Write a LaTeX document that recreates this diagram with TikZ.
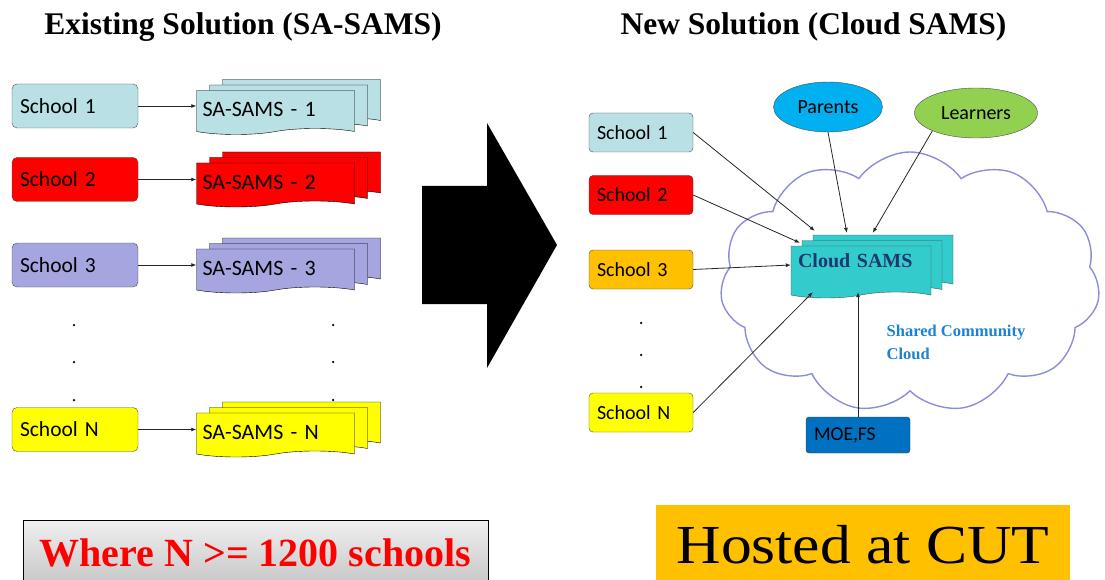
\documentclass[tikz,border=0pt]{standalone}
\usepackage{fontspec}
\setmainfont{Liberation Serif}
\newfontfamily\calibri{Carlito}
\usepackage{xcolor}
\usetikzlibrary{shapes.symbols,shapes.geometric,shadows,arrows.meta}

\definecolor{schoolcyan}{RGB}{185,224,228}
\definecolor{schoolred}{RGB}{255,0,0}
\definecolor{schoolviolet}{RGB}{165,165,224}
\definecolor{schoolyellow}{RGB}{255,255,0}
\definecolor{schoolorange}{RGB}{255,192,0}
\definecolor{parentsblue}{RGB}{0,176,240}
\definecolor{learnersgreen}{RGB}{146,208,80}
\definecolor{cloudline}{RGB}{140,140,220}
\definecolor{cloudsams}{RGB}{51,204,204}
\definecolor{samsnavy}{RGB}{31,56,110}
\definecolor{sharedblue}{RGB}{30,130,210}
\definecolor{moeblue}{RGB}{0,112,192}

\begin{document}
\begin{tikzpicture}[x=1pt,y=-1pt]
\tikzstyle{heading} = [font=\fontsize{31.5}{36}\selectfont\bfseries]
\tikzstyle{school} = [rectangle, rounded corners=5pt, draw=gray!60!black, minimum height=44pt, text width=110pt, inner xsep=8pt, align=left, font=\calibri\fontsize{21.5}{24}\selectfont]
\tikzstyle{rschool} = [rectangle, rounded corners=4pt, draw=gray!60!black, minimum height=39pt, text width=88pt, inner xsep=8pt, align=left, font=\calibri\fontsize{20}{24}\selectfont]
\tikzstyle{samsdoc} = [tape, tape bend top=none, tape bend height=6pt, draw=black, minimum height=44pt, text width=146pt, inner xsep=6pt, align=left, font=\calibri\fontsize{22}{24}\selectfont, copy shadow={shadow xshift=26pt, shadow yshift=11pt}, copy shadow={shadow xshift=13pt, shadow yshift=5.5pt}]
\tikzstyle{clouddoc} = [tape, tape bend top=none, tape bend height=6pt, draw=black!70, fill=cloudsams, minimum height=52pt, text width=126pt, inner xsep=7pt, text depth=16pt, align=left, font=\fontsize{20}{24}\selectfont\bfseries, text=samsnavy, copy shadow={shadow xshift=22pt, shadow yshift=11pt}, copy shadow={shadow xshift=11pt, shadow yshift=5.5pt}]
\tikzstyle{user} = [ellipse, draw=black!70, minimum height=50pt, font=\calibri\fontsize{20}{24}\selectfont]
\tikzstyle{vdot} = [circle, fill=black, inner sep=0pt, minimum size=2.5pt]
\tikzstyle{feed} = [draw=black!85, line width=0.8pt, -{Latex[length=5pt,width=4pt]}]

\useasboundingbox (0,0) rectangle (1105,580);

% titles
\node(oldTitle) [heading] at (243,27) {Existing Solution (SA-SAMS)};
\node(newTitle) [heading] at (813.5,27) {New Solution (Cloud SAMS)};

% existing solution
\node(schoolA) [school, fill=schoolcyan] at (75,106) {School 1};
\node(schoolB) [school, fill=schoolred] at (75,179.5) {School 2};
\node(schoolC) [school, fill=schoolviolet] at (75,265) {School 3};
\node(schoolN) [school, fill=schoolyellow] at (75,429.5) {School N};

\node(docA) [samsdoc, fill=schoolcyan] at (275.5,109.5) {SA-SAMS - 1};
\node(docB) [samsdoc, fill=schoolred] at (275.5,182) {SA-SAMS - 2};
\node(docC) [samsdoc, fill=schoolviolet] at (275.5,268) {SA-SAMS - 3};
\node(docN) [samsdoc, fill=schoolyellow] at (275.5,432) {SA-SAMS - N};

\foreach \s/\d in {schoolA/docA, schoolB/docB, schoolC/docC, schoolN/docN}
  \draw[feed] (\s.east) -- (\s.east -| \d.west);

\foreach \y [count=\i] in {325,362,400} {
  \node(leftDot\i) [vdot] at (74,\y) {};
  \node(rightDot\i) [vdot] at (333,\y) {};
}

% big arrow
\fill (422,186) -- (487,186) -- (487,123) -- (557,245) -- (487,368) -- (487,304) -- (422,304) -- cycle;

% new solution
\node(sharedCloud) [cloud, cloud puffs=11, cloud puff arc=110, aspect=1.45, draw=cloudline, line width=1.4pt, minimum width=380pt, minimum height=261pt] at (910,282.5) {};
\node(sharedLabel) [font=\fontsize{16.5}{23}\selectfont\bfseries, text=sharedblue, align=left] at (956,342) {Shared Community\\Cloud};

\node(rschoolA) [rschool, fill=schoolcyan] at (641,132.5) {School 1};
\node(rschoolB) [rschool, fill=schoolred] at (641,195) {School 2};
\node(rschoolC) [rschool, fill=schoolorange] at (641,269.5) {School 3};
\node(rschoolN) [rschool, fill=schoolyellow] at (641,412.5) {School N};

\foreach \y [count=\i] in {323,355,387}
  \node(newDot\i) [vdot] at (641,\y) {};

\node(parents) [user, fill=parentsblue, minimum width=109pt] at (828,107) {Parents};
\node(learners) [user, fill=learnersgreen, minimum width=123pt] at (976,113) {Learners};

\node(csams) [clouddoc] at (861,269) {Cloud SAMS};

\node(moe) [rectangle, rounded corners=3pt, fill=moeblue, draw=gray!50!black, minimum height=36pt, text width=88pt, inner xsep=8pt, align=left, font=\calibri\fontsize{19.5}{24}\selectfont] at (858,435) {MOE,FS};

\draw[feed] (rschoolA.east) -- ([xshift=24pt,yshift=15pt]csams.north west);
\draw[feed] (rschoolB.east) -- ([xshift=9pt,yshift=3pt]csams.north west);
\draw[feed] (rschoolC.east) -- ([yshift=4pt]csams.west);
\draw[feed] (rschoolN.east) -- ([xshift=22pt]csams.south west);
\draw[feed] (parents.south) -- ([xshift=56pt,yshift=13pt]csams.north west);
\draw[feed] (learners.south west) -- ([xshift=82pt,yshift=13pt]csams.north west);
\draw[feed] (moe.north) -- (moe.north |- csams.south);

% notes
\node(whereBox) [rectangle, draw=black, line width=1pt, top color=gray!12, bottom color=gray!45, minimum width=465pt, minimum height=66pt, text=red, font=\fontsize{40}{44}\selectfont\bfseries] at (255.5,553) {Where N >= 1200 schools};
\node(hostedBox) [rectangle, fill=schoolorange, minimum width=414pt, minimum height=80pt, font=\fontsize{55}{60}\selectfont] at (863,545) {\scalebox{1.12}[1]{Hosted at CUT}};
\end{tikzpicture}
\end{document}
